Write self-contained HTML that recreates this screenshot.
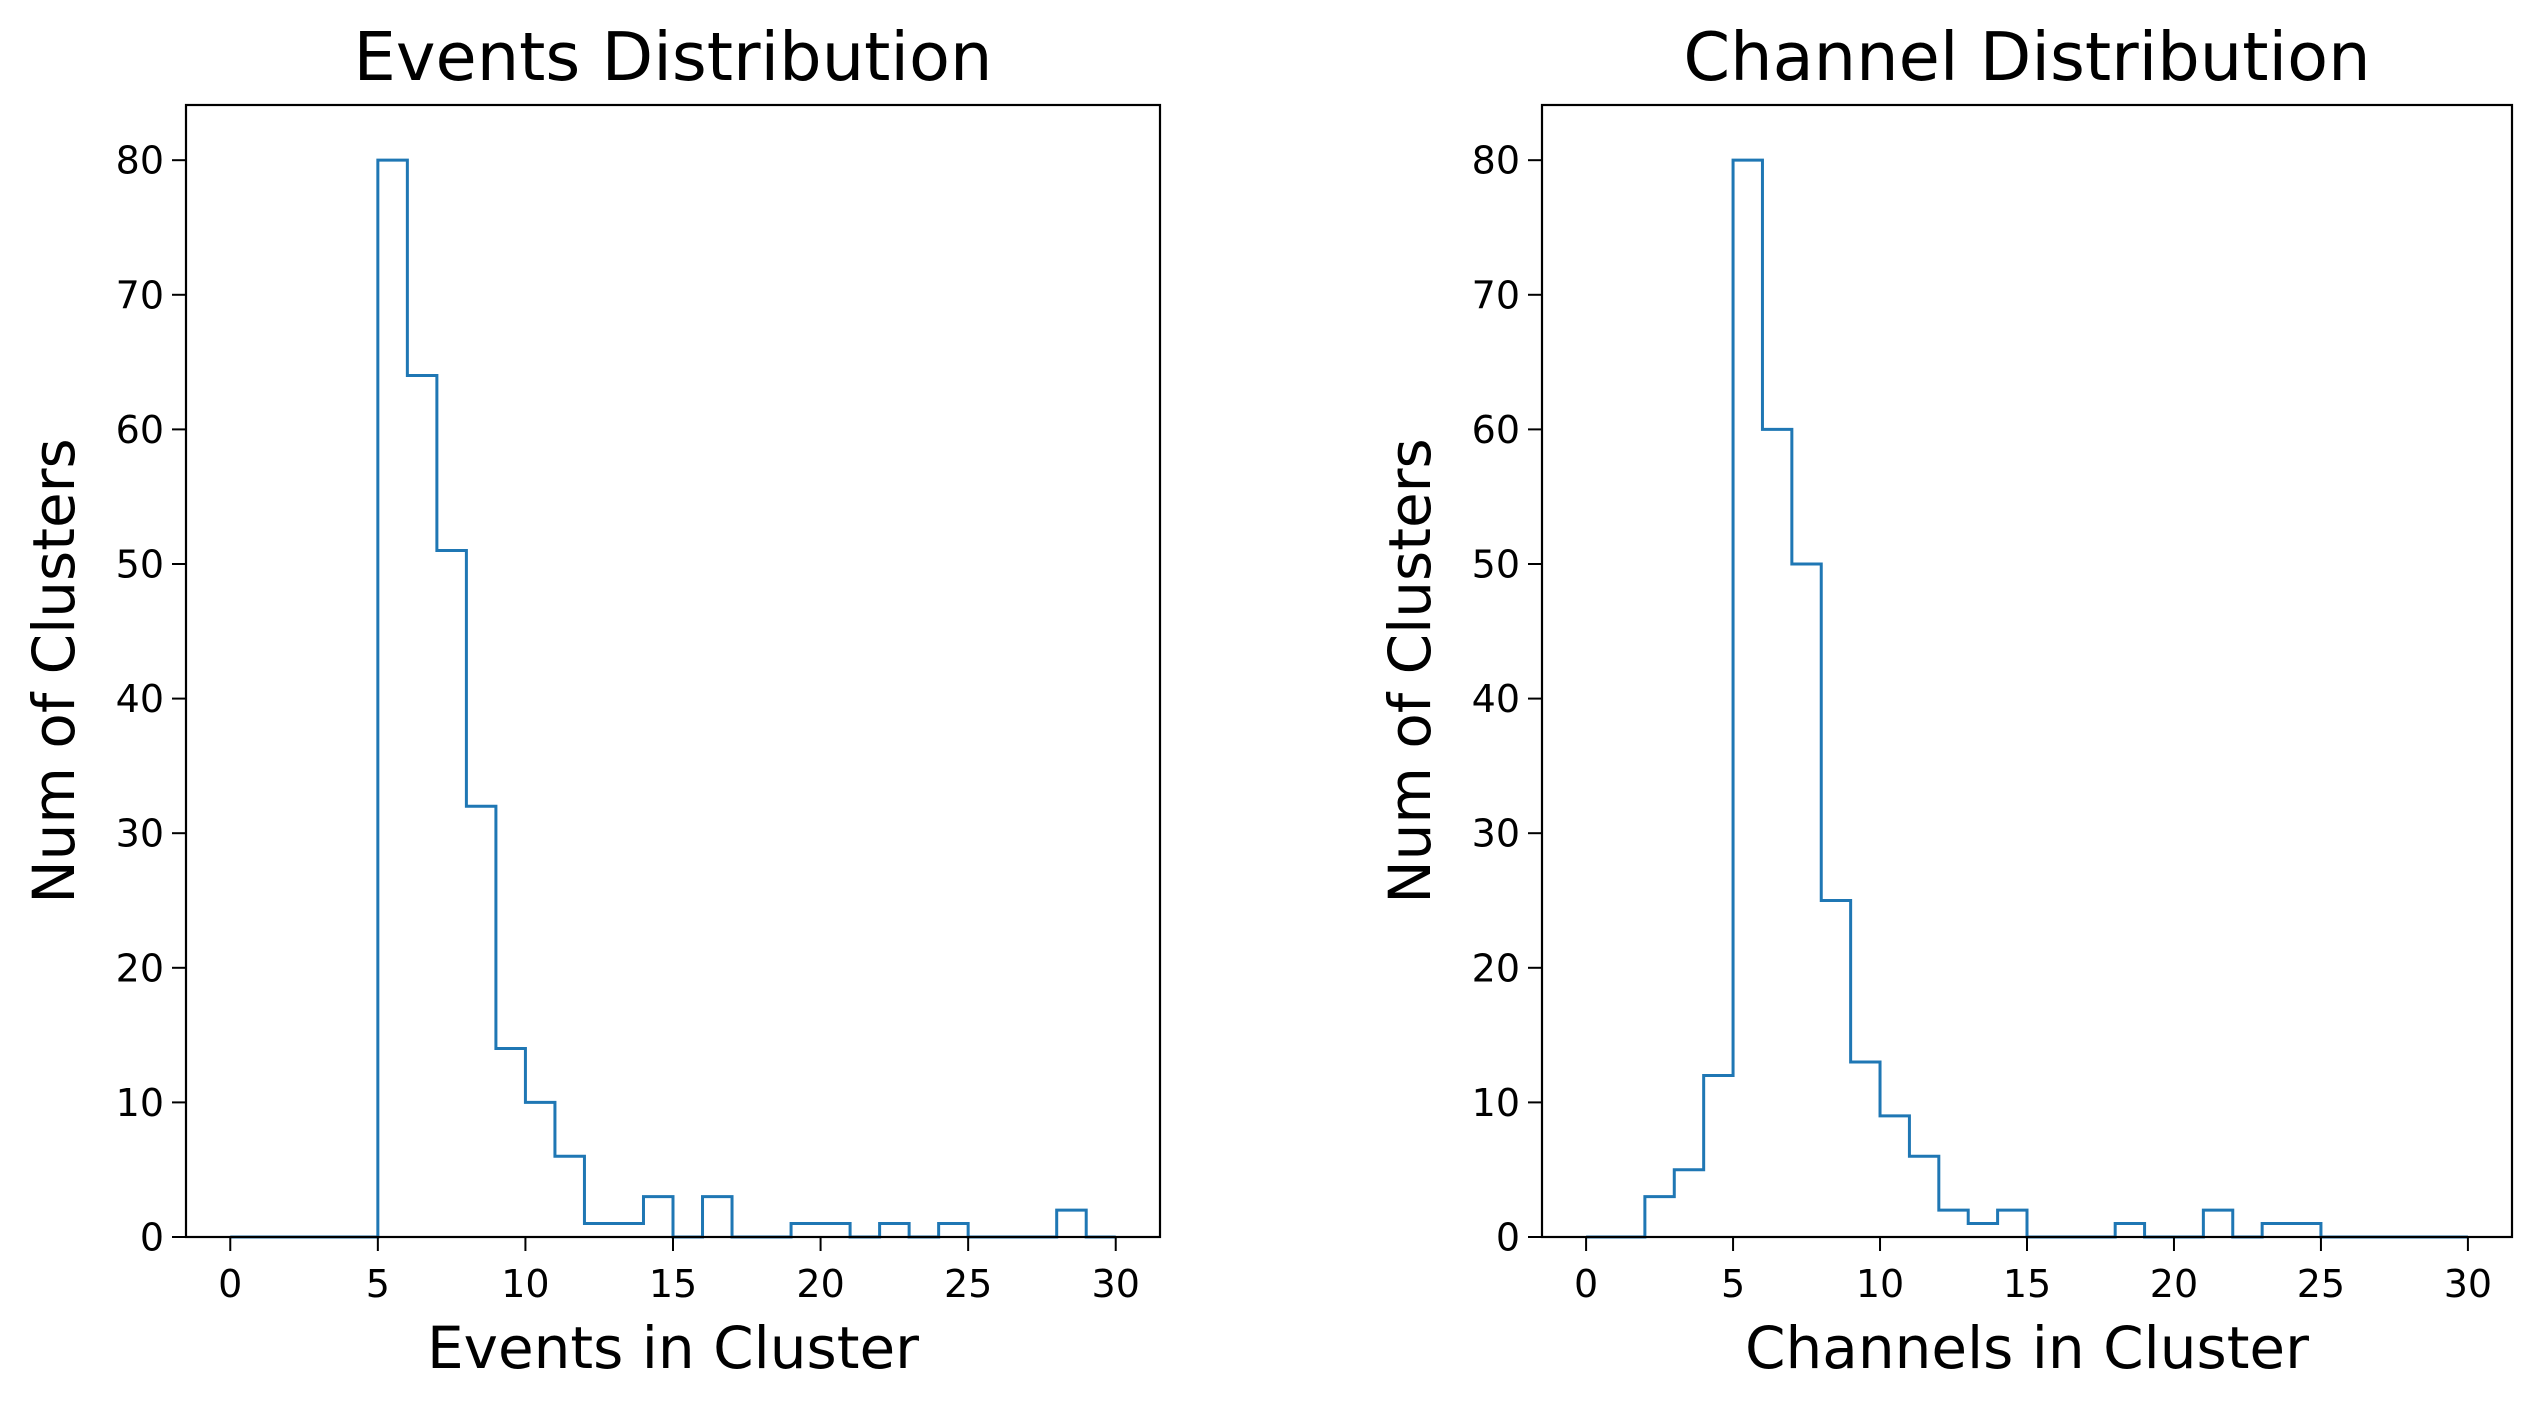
<!DOCTYPE html>
<html><head><meta charset="utf-8"><style>
html,body{margin:0;padding:0;background:#fff;}
svg{display:block;font-family:"DejaVu Sans","Liberation Sans",sans-serif;}
</style></head><body>
<svg id="chart" width="2540" height="1410" viewBox="0 0 2540 1410" xmlns="http://www.w3.org/2000/svg"></svg>
<script>
const binEdges = [0,1,2,3,4,5,6,7,8,9,10,11,12,13,14,15,16,17,18,19,20,21,22,23,24,25,26,27,28,29,30];
const eventsCounts = [0,0,0,0,0,80,64,51,32,14,10,6,1,1,3,0,3,0,0,1,1,0,1,0,1,0,0,0,2,0];
const channelCounts = [0,0,3,5,12,80,60,50,25,13,9,6,2,1,2,0,0,0,1,0,0,2,0,1,1,0,0,0,0,0];
const xTicks = [0,5,10,15,20,25,30];
const yTicks = [0,10,20,30,40,50,60,70,80];
const panels = [
  {name:'events', title:'Events Distribution', xlabel:'Events in Cluster', counts:eventsCounts, left:186, right:1160},
  {name:'channel', title:'Channel Distribution', xlabel:'Channels in Cluster', counts:channelCounts, left:1542, right:2512}
];
const TOP=105, BOTTOM=1237, XMIN=-1.5, XMAX=31.5, YMIN=0, YMAX=84.1;
const NS='http://www.w3.org/2000/svg';
const svg=document.getElementById('chart');
function mk(tag, attrs, parent){const e=document.createElementNS(NS,tag);for(const k in attrs)e.setAttribute(k,attrs[k]);(parent||svg).appendChild(e);return e;}
panels.forEach(p=>{
  const g=mk('g',{});
  
  
  const sx=v=>p.left+(v-XMIN)/(XMAX-XMIN)*(p.right-p.left);
  const sy=v=>BOTTOM-(v-YMIN)/(YMAX-YMIN)*(BOTTOM-TOP);
  let d='M'+sx(binEdges[0])+','+sy(0);
  p.counts.forEach((c,i)=>{d+=' L'+sx(binEdges[i])+','+sy(c)+' L'+sx(binEdges[i+1])+','+sy(c);});
  d+=' L'+sx(binEdges[binEdges.length-1])+','+sy(0);
  const path=mk('path',{d:d,fill:'none',stroke:'#1f77b4','stroke-width':3,'stroke-linejoin':'miter'},g);
  
  
  const frame=mk('rect',{x:p.left,y:TOP,width:p.right-p.left,height:BOTTOM-TOP,fill:'none',stroke:'#000','stroke-width':2.2},g);
  
  
  xTicks.forEach(t=>{
    const x=sx(t);
    mk('line',{x1:x,y1:BOTTOM,x2:x,y2:BOTTOM+14,stroke:'#000','stroke-width':2},g);
    const tx=mk('text',{x:x,y:1297,'font-size':38,'text-anchor':'middle',fill:'#000'},g);
    tx.textContent=t;
    
    
  });
  yTicks.forEach(t=>{
    const y=sy(t);
    mk('line',{x1:p.left-14,y1:y,x2:p.left,y2:y,stroke:'#000','stroke-width':2},g);
    const ty=mk('text',{x:p.left-22,y:y+13.5,'font-size':38,'text-anchor':'end',fill:'#000'},g);
    ty.textContent=t;
    
    
  });
  const cx=(p.left+p.right)/2;
  const title=mk('text',{x:cx,y:80,'font-size':67,'text-anchor':'middle',fill:'#000'},g);
  title.textContent=p.title;
  
  
  const xl=mk('text',{x:cx,y:1368,'font-size':58,'text-anchor':'middle',fill:'#000'},g);
  xl.textContent=p.xlabel;
  
  
  const ly=(TOP+BOTTOM)/2, lx=p.left-112;
  const yl=mk('text',{x:lx,y:ly,'font-size':58,'text-anchor':'middle',fill:'#000',transform:'rotate(-90 '+lx+' '+ly+')'},g);
  yl.textContent='Num of Clusters';
  
  
});
</script>
</body></html>
